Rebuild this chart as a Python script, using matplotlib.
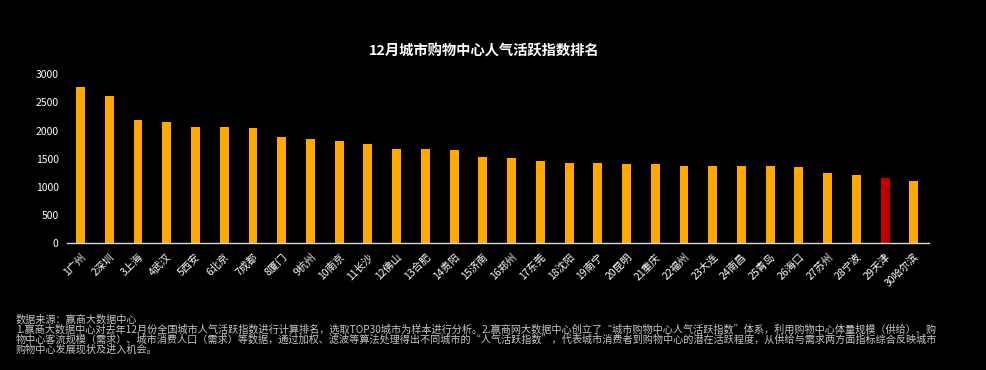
import numpy as np
import matplotlib
matplotlib.use('Agg')
import matplotlib.pyplot as plt

plt.rcParams['font.family'] = ['Noto Sans CJK SC', 'DejaVu Sans']

cities = ['1广州', '2深圳', '3上海', '4武汉', '5西安', '6北京', '7成都', '8厦门', '9杭州', '10南京',
          '11长沙', '12佛山', '13合肥', '14贵阳', '15济南', '16郑州', '17东莞', '18沈阳', '19南宁', '20昆明',
          '21重庆', '22福州', '23大连', '24南昌', '25青岛', '26海口', '27苏州', '28宁波', '29天津', '30哈尔滨']
values = [2775, 2615, 2189, 2154, 2065, 2065, 2047, 1888, 1852, 1817,
          1763, 1675, 1675, 1657, 1533, 1515, 1462, 1426, 1426, 1408,
          1408, 1373, 1373, 1373, 1373, 1355, 1249, 1213, 1160, 1107]
highlight = '29天津'

title = '12月城市购物中心人气活跃指数排名'
notes = ['数据来源：赢商大数据中心',
         '1.赢商大数据中心对去年12月份全国城市人气活跃指数进行计算排名，选取TOP30城市为样本进行分析。2.赢商网大数据中心创立了“城市购物中心人气活跃指数”体系，利用购物中心体量规模（供给）、购',
         '物中心客流规模（需求）、城市消费人口（需求）等数据，通过加权、滤波等算法处理得出不同城市的“人气活跃指数”，代表城市消费者到购物中心的潜在活跃程度，从供给与需求两方面指标综合反映城市',
         '购物中心发展现状及进入机会。']

fig = plt.figure(figsize=(9.86, 3.70), dpi=100)
fig.patch.set_facecolor('black')
ax = fig.add_axes([0.068, 0.3424, 0.874, 0.4568])
ax.set_facecolor('black')

x = np.arange(len(cities))
colors = ['#C00000' if c == highlight else '#FFA800' for c in cities]
ax.bar(x, values, width=0.31, color=colors)

ax.set_xlim(-0.47, len(cities) - 0.48)
ax.set_ylim(0, 3000)
ax.set_yticks(np.arange(0, 3001, 500))
ax.set_xticks(x)
ax.set_xticklabels(cities, rotation=45, ha='right', va='top', rotation_mode='anchor')
ax.tick_params(axis='both', length=0, colors='white', labelsize=7.5)
ax.tick_params(axis='x', pad=6)
ax.tick_params(axis='y', pad=6)
for s in ['top', 'right', 'left']:
    ax.spines[s].set_visible(False)
ax.spines['bottom'].set_color('#d9d9d9')
ax.spines['bottom'].set_linewidth(1)

fig.text(0.491, 0.862, title, color='white', fontsize=10.3, fontweight='bold',
         ha='center', va='center')

# footnotes
y0 = 0.137
for i, line in enumerate(notes):
    fig.text(0.016, y0 - i * 0.0268, line, color='#c8c8c8', fontsize=7.3,
             ha='left', va='center')

fig.savefig('out.png', dpi=100, facecolor='black')
